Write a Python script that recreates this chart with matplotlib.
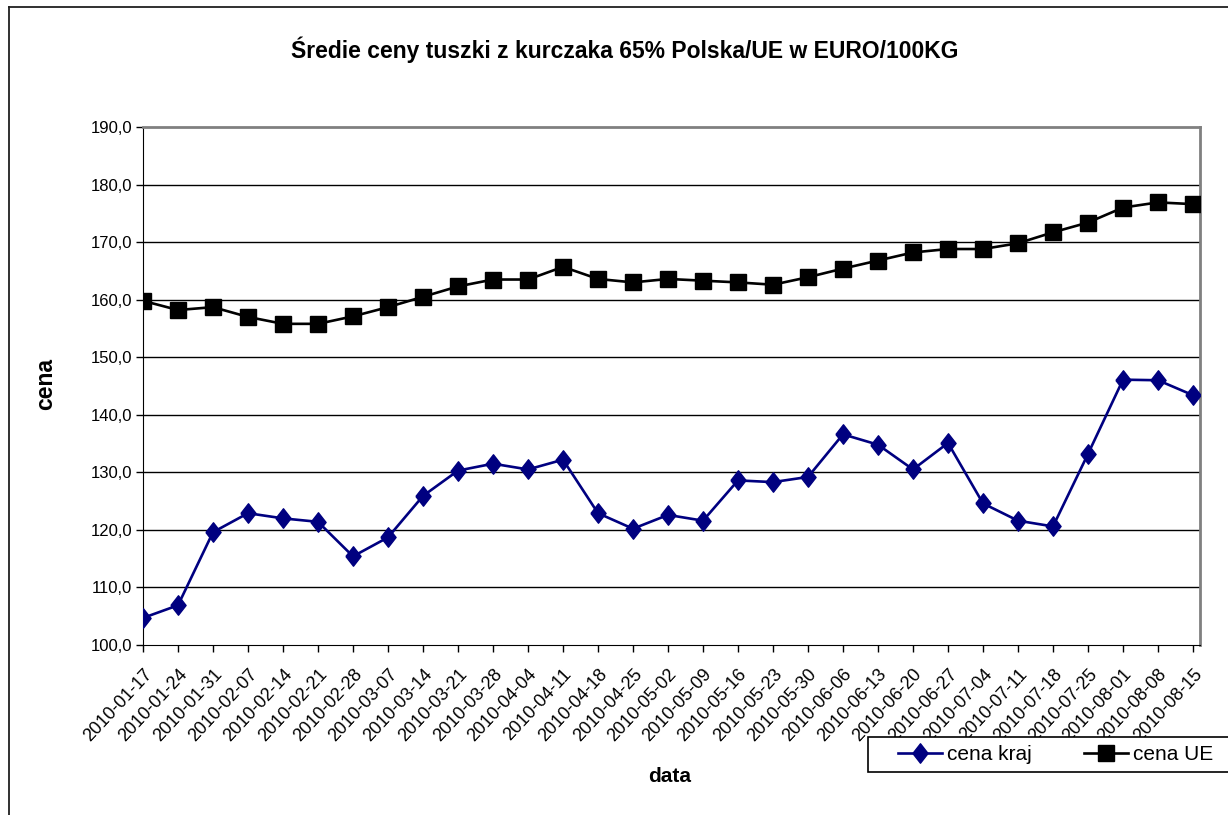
import matplotlib
matplotlib.use("Agg")
import matplotlib.pyplot as plt
from matplotlib.lines import Line2D
from matplotlib.patches import Rectangle
import numpy as np

# weekly dates on the x axis
dates = ["2010-01-17", "2010-01-24", "2010-01-31", "2010-02-07", "2010-02-14",
         "2010-02-21", "2010-02-28", "2010-03-07", "2010-03-14", "2010-03-21",
         "2010-03-28", "2010-04-04", "2010-04-11", "2010-04-18", "2010-04-25",
         "2010-05-02", "2010-05-09", "2010-05-16", "2010-05-23", "2010-05-30",
         "2010-06-06", "2010-06-13", "2010-06-20", "2010-06-27", "2010-07-04",
         "2010-07-11", "2010-07-18", "2010-07-25", "2010-08-01", "2010-08-08",
         "2010-08-15"]

cena_kraj = [104.7, 106.9, 119.6, 122.9, 122.0, 121.4, 115.4, 118.7, 125.9, 130.3,
             131.5, 130.5, 132.2, 122.9, 120.2, 122.6, 121.6, 128.6, 128.3, 129.2,
             136.6, 134.8, 130.5, 135.1, 124.6, 121.6, 120.6, 133.2, 146.1, 146.0,
             143.4]

cena_ue = [159.8, 158.2, 158.7, 157.0, 155.8, 155.8, 157.1, 158.7, 160.5, 162.3,
           163.5, 163.5, 165.7, 163.6, 163.0, 163.6, 163.3, 163.0, 162.6, 163.9,
           165.4, 166.8, 168.2, 168.8, 168.8, 169.8, 171.7, 173.4, 176.0, 176.9,
           176.6]

y_ticks = [100, 110, 120, 130, 140, 150, 160, 170, 180, 190]

title = "Średie ceny tuszki z kurczaka 65% Polska/UE w EURO/100KG"

plt.rcParams['font.family'] = ['Liberation Sans', 'DejaVu Sans']

W, H = 1228, 815
fig = plt.figure(figsize=(W / 100, H / 100), dpi=100)
fig.patch.set_facecolor("white")

# outer chart frame (only top and left edges visible)
fig.add_artist(Line2D([9 / W, 1], [1 - 7 / H, 1 - 7 / H], transform=fig.transFigure,
                      color="#202020", lw=1.3))
fig.add_artist(Line2D([9 / W, 9 / W], [0, 1 - 7 / H], transform=fig.transFigure,
                      color="#202020", lw=1.3))

ax = fig.add_axes([143 / W, 1 - 645 / H, (1200 - 143) / W, (645 - 127) / H])

x = np.arange(len(dates))
diamond = [(-0.78, 0), (0, 1), (0.78, 0), (0, -1), (-0.78, 0)]

ax.plot(x, cena_kraj, color="#000080", lw=1.9, marker=diamond, ms=14,
        mfc="#000080", mec="#000080", label="cena kraj", zorder=3)
ax.plot(x, cena_ue, color="black", lw=1.9, marker="s", ms=12,
        mfc="black", mec="black", label="cena UE", zorder=3)

ax.set_xlim(0, len(dates) - 1 + 0.2)
ax.set_ylim(100, 190)
ax.set_yticks(y_ticks)
ax.set_yticklabels([f"{v:.1f}".replace(".", ",") for v in y_ticks], fontsize=12)
ax.set_xticks(x)
ax.set_xticklabels(dates, rotation=47, ha="right", rotation_mode="anchor", fontsize=13)
ax.tick_params(axis="both", direction="out", length=5, width=1, color="black")
ax.tick_params(axis="y", pad=3)
ax.tick_params(axis="x", pad=10)

for v in y_ticks[1:-1]:
    ax.axhline(v, color="black", lw=1, zorder=1)

ax.spines["left"].set_color("black")
ax.spines["bottom"].set_color("black")
ax.spines["top"].set_color("#808080")
ax.spines["right"].set_color("#808080")
ax.spines["top"].set_linewidth(2)
ax.spines["right"].set_linewidth(2)

fig.text(625 / W, 1 - 50 / H, title, ha="center", va="center", fontsize=16.5,
         fontweight="bold")
fig.text(46 / W, 1 - 384 / H, "cena", ha="center", va="center", rotation=90,
         fontsize=16.5, fontweight="bold")
fig.text(670 / W, 1 - 777 / H, "data", ha="center", va="center", fontsize=15,
         fontweight="bold")

# legend box sits over the tick labels and runs past the right edge
fig.add_artist(Rectangle((868 / W, 1 - 772 / H), 400 / W, 35 / H,
                         transform=fig.transFigure, facecolor="white",
                         edgecolor="black", lw=1.2, zorder=4))
leg = fig.legend(loc="center left", bbox_to_anchor=(898 / W, 1 - 755 / H), ncol=2,
                 fontsize=15, frameon=False, handlelength=2.1, columnspacing=2.5,
                 borderpad=0, borderaxespad=0, handletextpad=0.25)
leg.set_zorder(6)

fig.savefig("out.png", dpi=100)
